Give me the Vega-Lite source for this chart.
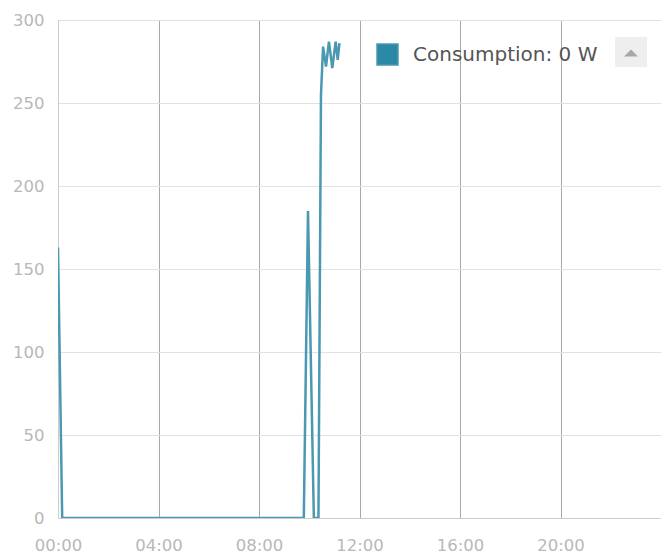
{
  "$schema": "https://vega.github.io/schema/vega-lite/v6.json",
  "autosize": {"type": "none"},
  "width": 603,
  "height": 498,
  "padding": {"left": 58, "top": 20, "right": 0, "bottom": 35},
  "background": "#ffffff",
  "config": {
    "view": {"stroke": null},
    "font": "DejaVu Sans",
    "axis": {"labelFont": "DejaVu Sans", "labelColor": "#b8b8b8", "labelFontSize": 16.5, "ticks": false, "domainColor": "#cccccc", "title": null}
  },
  "data": {
    "values": [
      {"t": "2024-01-01T00:00:00", "w": 163, "s": "Consumption: 0 W"},
      {"t": "2024-01-01T00:10:00", "w": 0, "s": "Consumption: 0 W"},
      {"t": "2024-01-01T03:00:00", "w": 0, "s": "Consumption: 0 W"},
      {"t": "2024-01-01T07:00:00", "w": 0, "s": "Consumption: 0 W"},
      {"t": "2024-01-01T09:47:00", "w": 0, "s": "Consumption: 0 W"},
      {"t": "2024-01-01T09:57:00", "w": 185, "s": "Consumption: 0 W"},
      {"t": "2024-01-01T10:11:00", "w": 0, "s": "Consumption: 0 W"},
      {"t": "2024-01-01T10:22:00", "w": 0, "s": "Consumption: 0 W"},
      {"t": "2024-01-01T10:28:00", "w": 255, "s": "Consumption: 0 W"},
      {"t": "2024-01-01T10:33:00", "w": 284, "s": "Consumption: 0 W"},
      {"t": "2024-01-01T10:40:00", "w": 272, "s": "Consumption: 0 W"},
      {"t": "2024-01-01T10:47:00", "w": 287, "s": "Consumption: 0 W"},
      {"t": "2024-01-01T10:55:00", "w": 271, "s": "Consumption: 0 W"},
      {"t": "2024-01-01T11:03:00", "w": 287, "s": "Consumption: 0 W"},
      {"t": "2024-01-01T11:08:00", "w": 276, "s": "Consumption: 0 W"},
      {"t": "2024-01-01T11:12:00", "w": 286, "s": "Consumption: 0 W"}
    ]
  },
  "layer": [
    {
      "mark": {"type": "line", "strokeWidth": 2.5, "clip": true},
      "encoding": {
        "x": {
          "field": "t", "type": "temporal",
          "scale": {"domain": [{"year": 2024, "month": 1, "date": 1, "hours": 0}, {"year": 2024, "month": 1, "date": 2, "hours": 0}]},
          "axis": {
            "format": "%H:%M",
            "values": [
              {"year": 2024, "month": 1, "date": 1, "hours": 0},
              {"year": 2024, "month": 1, "date": 1, "hours": 4},
              {"year": 2024, "month": 1, "date": 1, "hours": 8},
              {"year": 2024, "month": 1, "date": 1, "hours": 12},
              {"year": 2024, "month": 1, "date": 1, "hours": 16},
              {"year": 2024, "month": 1, "date": 1, "hours": 20}
            ],
            "grid": true, "gridColor": "#a8a8a8", "gridWidth": 1,
            "labelPadding": 19, "labelFlush": false
          }
        },
        "y": {
          "field": "w", "type": "quantitative",
          "scale": {"domain": [0, 300], "nice": false},
          "axis": {"values": [0, 50, 100, 150, 200, 250, 300], "grid": true, "gridColor": "#e2e2e2", "labelPadding": 14}
        },
        "color": {
          "field": "s", "type": "nominal",
          "scale": {"range": ["#4a98b2"]},
          "legend": {
            "orient": "none", "legendX": 318, "legendY": 23,
            "title": null, "symbolType": "square", "symbolSize": 440,
            "labelFontSize": 20, "labelColor": "#555555", "labelFont": "DejaVu Sans",
            "labelOffset": 14, "labelLimit": 400,
            "encode": {"symbols": {"update": {"fill": {"value": "#2b89a6"}, "stroke": {"value": "#b0b0b0"}, "strokeWidth": {"value": 1.5}, "opacity": {"value": 1}}}}
          }
        }
      }
    },
    {
      "mark": {"type": "point", "opacity": 0, "filled": true, "color": "#a8a8a8"},
      "encoding": {
        "x": {"field": "t", "type": "temporal"},
        "y": {"field": "w", "type": "quantitative"},
        "shape": {
          "datum": "btn",
          "scale": {"range": ["M-1,0.5L1,0.5L0,-0.5Z"]},
          "legend": {
            "orient": "none", "legendX": 557, "legendY": 17,
            "title": null, "labelExpr": "''", "labelOffset": 0, "labelLimit": 1,
            "fillColor": "#eeeeee", "padding": 9, "symbolSize": 196,
            "symbolOpacity": 1, "symbolFillColor": "#a8a8a8", "symbolStrokeWidth": 0
          }
        }
      }
    }
  ]
}
